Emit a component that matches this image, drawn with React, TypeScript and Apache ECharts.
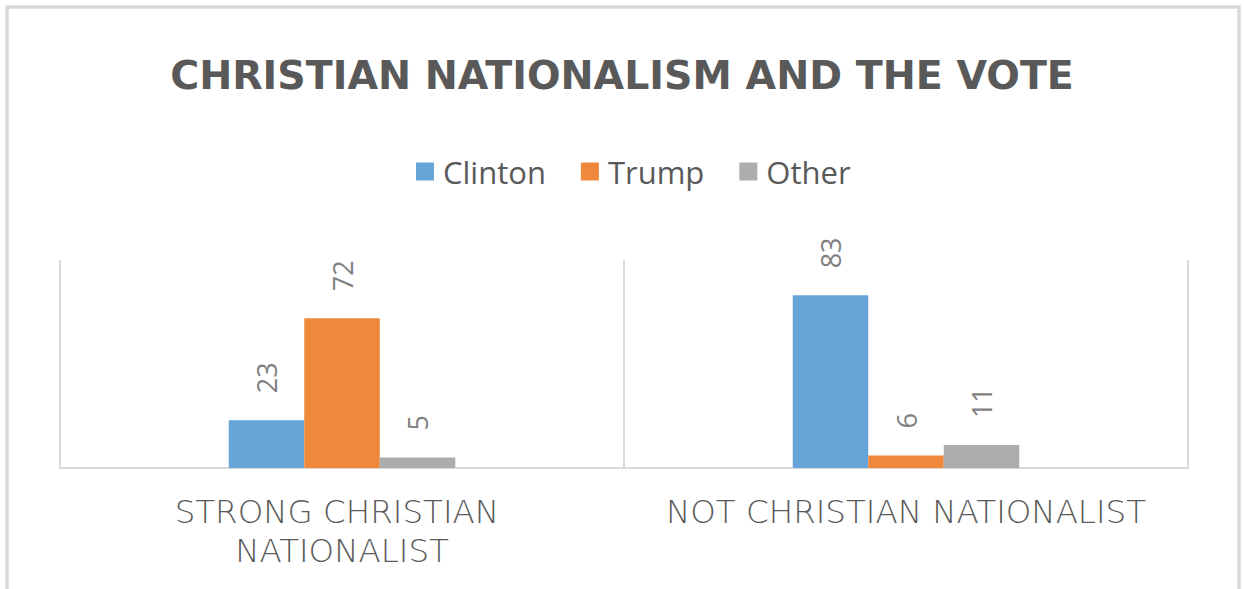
import React, { useEffect, useRef } from "react";
import * as echarts from "echarts";

const categories = ["STRONG CHRISTIAN NATIONALIST", "NOT CHRISTIAN NATIONALIST"];
const seriesNames = ["Clinton", "Trump", "Other"];
const clinton = [23, 83];
const trump = [72, 6];
const other = [5, 11];
const colors = ["#67A4D8", "#EF883A", "#ADADAD"];

export default function App() {
  const ref = useRef<HTMLDivElement>(null);
  useEffect(() => {
    document.body.style.margin = "0";
    const chart = echarts.init(ref.current!, null, { renderer: "svg" });
    const values = [clinton, trump, other];
    chart.setOption({
      animation: false,
      backgroundColor: "#ffffff",
      title: {
        text: "CHRISTIAN NATIONALISM AND THE VOTE",
        left: "center",
        top: 50,
        textStyle: {
          fontFamily: "DejaVu Sans",
          fontWeight: "bold",
          fontSize: 39.5,
          color: "#595959",
        },
      },
      legend: {
        top: 151,
        left: 411,
        itemWidth: 18,
        itemHeight: 18,
        itemGap: 35,
        icon: "rect",
        textStyle: { fontFamily: "Open Sans", fontSize: 31, color: "#595959", padding: [0, 0, 0, 4] },
        data: seriesNames,
      },
      graphic: [
        {
          type: "rect",
          shape: { x: 7, y: 7, width: 1232, height: 640 },
          style: { fill: "none", stroke: "#d9d9d9", lineWidth: 3.5 },
          silent: true,
        },
      ],
      grid: { left: 60, right: 56, top: 260, bottom: 121 },
      xAxis: {
        type: "category",
        data: categories,
        axisLine: { show: true, lineStyle: { color: "#d9d9d9", width: 2 } },
        axisTick: { show: false },
        splitLine: { show: true, lineStyle: { color: "#d9d9d9", width: 2 } },
        axisLabel: {
          margin: 24,
          fontFamily: "DejaVu Sans",
          fontSize: 32.5,
          fontWeight: 200,
          color: "#595959",
          lineHeight: 39,
          width: 510,
          overflow: "break",
          interval: 0,
        },
      },
      yAxis: {
        type: "value",
        min: 0,
        max: 100,
        show: false,
        splitLine: { show: false },
      },
      series: seriesNames.map((name, i) => ({
        name,
        type: "bar",
        data: values[i],
        barWidth: 75.5,
        barGap: "0%",
        itemStyle: { color: colors[i] },
        label: {
          show: true,
          position: "top",
          rotate: 90,
          align: "left",
          verticalAlign: "middle",
          distance: 27,
          fontFamily: "Open Sans",
          fontSize: 27,
          color: "#7F7F7F",
        },
      })),
    });
    return () => chart.dispose();
  }, []);
  return <div ref={ref} style={{ width: 1244, height: 589 }} />;
}
